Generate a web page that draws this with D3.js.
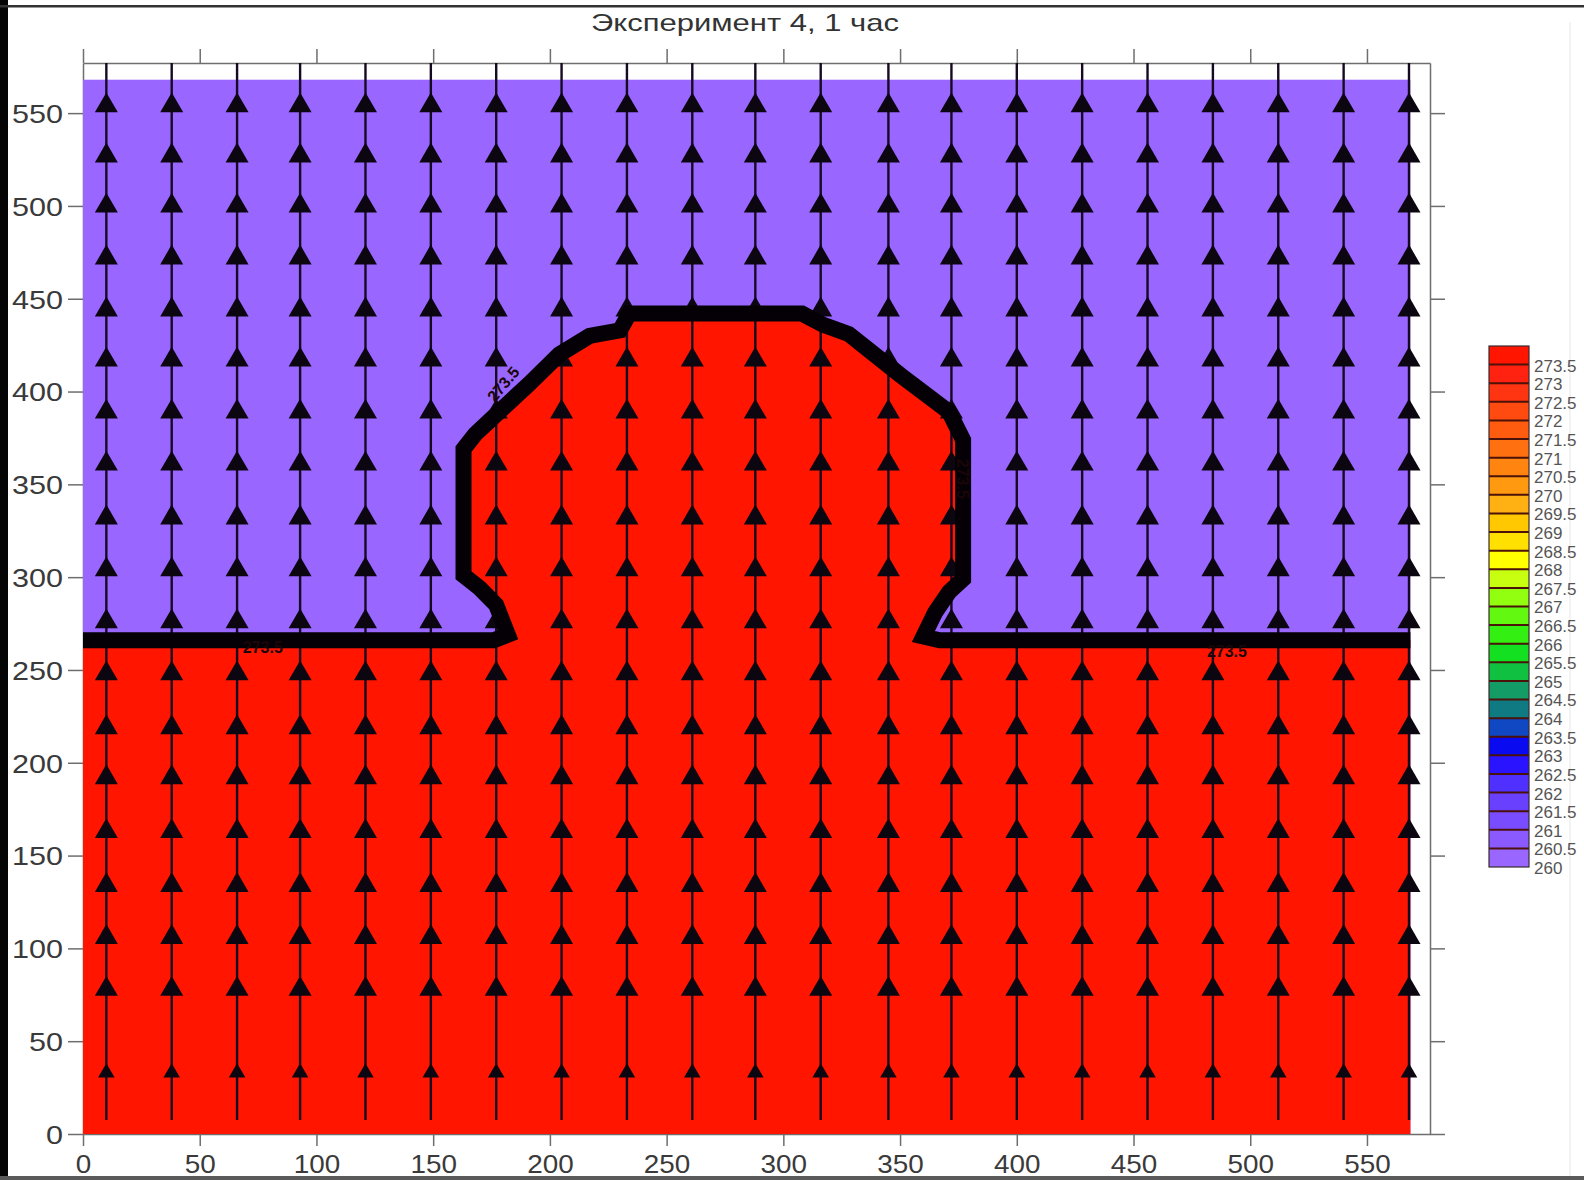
<!DOCTYPE html>
<html>
<head>
<meta charset="utf-8">
<script src="https://cdn.jsdelivr.net/npm/d3@7/dist/d3.min.js"></script>
<style>
  html, body { margin: 0; padding: 0; background: #fff; }
  svg { display: block; font-family: "Liberation Sans", Arial, sans-serif; }
</style>
</head>
<body>
<svg id="chart" width="1584" height="1180"></svg>
<script>
// Title of the run
const chartTitle = "Эксперимент 4, 1 час";

// Axis ticks (grid units)
const xTicks = [0, 50, 100, 150, 200, 250, 300, 350, 400, 450, 500, 550];
const yTicks = [0, 50, 100, 150, 200, 250, 300, 350, 400, 450, 500, 550];

// Extent of the computed field
const fieldMaxX = 568.6;
const fieldMaxY = 568;

// Velocity vector grid: column positions, row positions and relative speed per row
const vecCols = [10, 38, 66, 93, 121, 149, 177, 205, 233, 261, 288, 316, 345, 372, 400, 428, 456, 484, 512, 540, 568];
const vecRows = [554, 527, 500, 472, 444, 417, 389, 361, 332, 304, 276, 248, 219, 192, 163, 134, 106, 78, 33];
const rowSpeed = [1, 1, 1, 1, 1, 1, 1, 1, 1, 1, 1, 1, 1, 1, 1, 1, 1, 1, 0.72];
const streamTop = 577;
const streamBottom = 7.5;

// Phase interface (273.5 isotherm): warm region lies below it
const interfaceX = [0, 176, 182, 177, 170, 163, 163, 168, 179, 191, 204, 217, 230, 234, 308, 317, 328, 350, 371, 377, 377, 371, 365, 360, 367, 568.6];
const interfaceY = [266, 266, 269, 285, 294, 301, 369, 377, 390, 404, 420, 430, 433, 442, 442, 436, 431, 409, 389, 374, 299, 292, 281, 268, 266, 266];

// Isotherm labels along the interface
const isoLabelText = ["273.5", "273.5", "273.5", "273.5"];
const isoLabelX = [77, 490, 180, 377];
const isoLabelY = [262, 260, 404, 353];
const isoLabelAngle = [0, 0, -50, 90];

// Colour scale levels and their fills (bottom to top)
const legendLabels = ["260", "260.5", "261", "261.5", "262", "262.5", "263", "263.5", "264", "264.5",
  "265", "265.5", "266", "266.5", "267", "267.5", "268", "268.5", "269", "269.5",
  "270", "270.5", "271", "271.5", "272", "272.5", "273", "273.5"];
const legendLevels = legendLabels.map(Number);
const legendColors = ["#9966ff", "#8a5aff", "#7a4cff", "#6a40ff", "#5030ff", "#2a14ff", "#0a0af0", "#1048c4",
  "#107a82", "#149c66", "#10c040", "#12e020", "#34f012", "#62f810", "#92ff10", "#c8ff10",
  "#ffff00", "#ffe000", "#ffc800", "#ffb012", "#ff9a10", "#ff8510", "#ff7010", "#ff5c10",
  "#ff4a10", "#ff3410", "#ff2210", "#ff1500"];

const svg = d3.select("#chart");

// Picture frame edges
svg.append("rect").attr("x", 0).attr("y", 0).attr("width", 8).attr("height", 1180).attr("fill", "#050505");
svg.append("rect").attr("x", 0).attr("y", 5).attr("width", 1584).attr("height", 2.5).attr("fill", "#333");
svg.append("rect").attr("x", 0).attr("y", 1176).attr("width", 1584).attr("height", 4).attr("fill", "#5a5a5a");
svg.append("line").attr("x1", 1570).attr("x2", 1570).attr("y1", 22).attr("y2", 1176)
  .attr("stroke", "#e6e6e6").attr("stroke-width", 1);

// Scales
const x = d3.scaleLinear().domain([0, 577]).range([83, 1430]);
const y = d3.scaleLinear().domain([0, 577]).range([1134, 63]);

// Title
svg.append("text")
  .attr("x", 745).attr("y", 31)
  .attr("text-anchor", "middle")
  .attr("font-size", 24)
  .attr("fill", "#333")
  .attr("textLength", 308).attr("lengthAdjust", "spacingAndGlyphs")
  .text(chartTitle);

// Axes (frame with outward ticks)
const axisColor = "#6e6e6e";
function styleAxis(g) {
  g.select(".domain").attr("stroke", axisColor).attr("stroke-width", 1.5);
  g.selectAll(".tick line").attr("stroke", axisColor).attr("stroke-width", 1.5);
  g.selectAll(".tick text").attr("fill", "#3a3a3a").attr("font-size", 26)
    .attr("font-family", "'Liberation Sans', Arial, sans-serif");
}

const gLeft = svg.append("g").attr("transform", `translate(${x(0)},0)`)
  .call(d3.axisLeft(y).tickValues(yTicks).tickSize(15).tickSizeOuter(0).tickPadding(5));
styleAxis(gLeft);
gLeft.selectAll(".tick text").attr("dy", "0.36em")
  .attr("textLength", d => String(d).length * 17).attr("lengthAdjust", "spacingAndGlyphs");

const gBottom = svg.append("g").attr("transform", `translate(0,${y(0)})`)
  .call(d3.axisBottom(x).tickValues(xTicks).tickSize(12).tickSizeOuter(0).tickPadding(9));
styleAxis(gBottom);
gBottom.selectAll(".tick text")
  .attr("textLength", d => String(d).length * 15.5).attr("lengthAdjust", "spacingAndGlyphs");

const gTop = svg.append("g").attr("transform", `translate(0,${y(577)})`)
  .call(d3.axisTop(x).tickValues(xTicks).tickSize(14).tickSizeOuter(0).tickFormat(""));
styleAxis(gTop);

const gRight = svg.append("g").attr("transform", `translate(${x(577)},0)`)
  .call(d3.axisRight(y).tickValues(yTicks).tickSize(15).tickSizeOuter(0).tickFormat(""));
styleAxis(gRight);

// Temperature field: cold region fill, then warm region below the interface
const interfacePts = interfaceX.map((v, i) => [v, interfaceY[i]]);
svg.append("rect")
  .attr("x", x(0)).attr("y", y(fieldMaxY))
  .attr("width", x(fieldMaxX) - x(0)).attr("height", y(0) - y(fieldMaxY))
  .attr("fill", legendColors[0]);

const warmPoly = interfacePts.concat([[fieldMaxX, 0], [0, 0]]);
svg.append("path")
  .attr("d", d3.line().x(d => x(d[0])).y(d => y(d[1]))(warmPoly) + "Z")
  .attr("fill", legendColors[legendColors.length - 1]);

// Velocity vectors: vertical streamlines with upward arrowheads
const gVec = svg.append("g");
gVec.selectAll("line.stream").data(vecCols).join("line")
  .attr("class", "stream")
  .attr("x1", d => x(d)).attr("x2", d => x(d))
  .attr("y1", y(streamTop)).attr("y2", y(streamBottom))
  .attr("stroke", "#160a22").attr("stroke-width", 2.4);

const headWidth = d3.scaleLinear().domain([0, 1]).range([0, 23]);
const arrowData = [];
vecRows.forEach((r, i) => vecCols.forEach(c => arrowData.push({ c, r, s: rowSpeed[i] })));
gVec.selectAll("path.head").data(arrowData).join("path")
  .attr("class", "head")
  .attr("transform", d => `translate(${x(d.c)},${y(d.r)})`)
  .attr("d", d => {
    const w = headWidth(d.s);
    return d3.symbol(d3.symbolTriangle, Math.sqrt(3) / 4 * w * w)();
  })
  .attr("fill", "#0c0610");

// Interface (bundle of isolines drawn as one heavy line)
svg.append("path")
  .attr("d", d3.line().x(d => x(d[0])).y(d => y(d[1]))(interfacePts))
  .attr("fill", "none")
  .attr("stroke", "#050005")
  .attr("stroke-width", 16)
  .attr("stroke-linejoin", "miter")
  .attr("stroke-miterlimit", 3);

// Isoline labels
svg.append("g").selectAll("text").data(isoLabelText).join("text")
  .attr("transform", (d, i) => `translate(${x(isoLabelX[i])},${y(isoLabelY[i])}) rotate(${isoLabelAngle[i]})`)
  .attr("text-anchor", "middle")
  .attr("dy", "0.35em")
  .attr("font-size", 16)
  .attr("font-weight", "bold")
  .attr("fill", "#1a0508")
  .text(d => d);

// Colour bar
const ly = d3.scaleLinear().domain([260, 274]).range([867, 346]);
const barX = 1489, barW = 40;
const cellBounds = legendLevels.map((v, i) => [v, i + 1 < legendLevels.length ? legendLevels[i + 1] : 274]);
const gBar = svg.append("g");
gBar.selectAll("rect.cell").data(cellBounds).join("rect")
  .attr("class", "cell")
  .attr("x", barX).attr("width", barW)
  .attr("y", d => ly(d[1])).attr("height", d => ly(d[0]) - ly(d[1]))
  .attr("fill", (d, i) => legendColors[i]);
gBar.selectAll("line.sep").data(legendLevels.slice(1)).join("line")
  .attr("class", "sep")
  .attr("x1", barX).attr("x2", barX + barW)
  .attr("y1", d => ly(d)).attr("y2", d => ly(d))
  .attr("stroke", "#4a1208").attr("stroke-width", 2);
gBar.append("rect")
  .attr("x", barX).attr("y", ly(274)).attr("width", barW).attr("height", ly(260) - ly(274))
  .attr("fill", "none").attr("stroke", "#3a2a30").attr("stroke-width", 1.2);
gBar.selectAll("text").data(legendLabels).join("text")
  .attr("x", barX + barW + 5)
  .attr("y", (d, i) => ly(legendLevels[i]) + 1)
  .attr("dy", "0.35em")
  .attr("font-size", 17)
  .attr("fill", "#555")
  .text(d => d);
</script>
</body>
</html>
